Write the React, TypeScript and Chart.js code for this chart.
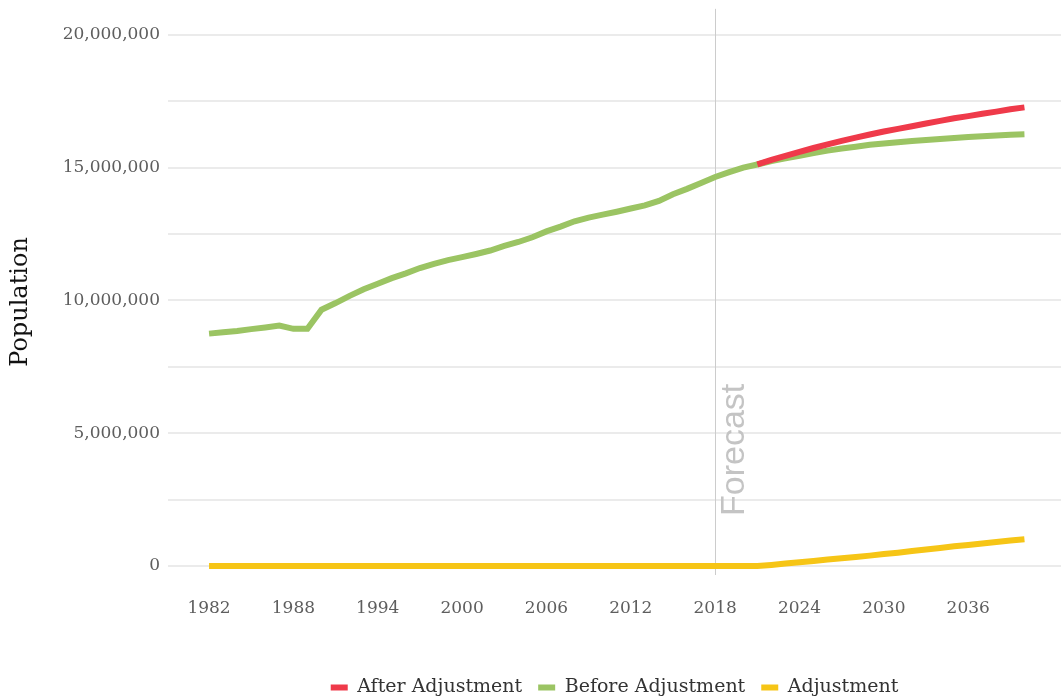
import React, { useEffect, useRef } from "react";
import { Chart, registerables } from "chart.js";

Chart.register(...registerables);

const years = [
  1982, 1983, 1984, 1985, 1986, 1987, 1988, 1989, 1990, 1991,
  1992, 1993, 1994, 1995, 1996, 1997, 1998, 1999, 2000, 2001,
  2002, 2003, 2004, 2005, 2006, 2007, 2008, 2009, 2010, 2011,
  2012, 2013, 2014, 2015, 2016, 2017, 2018, 2019, 2020, 2021,
  2022, 2023, 2024, 2025, 2026, 2027, 2028, 2029, 2030, 2031,
  2032, 2033, 2034, 2035, 2036, 2037, 2038, 2039, 2040,
];

const beforeAdjustment = [
  8.75, 8.8, 8.85, 8.92, 8.98, 9.05, 8.93, 8.93, 9.65, 9.9,
  10.17, 10.42, 10.63, 10.84, 11.02, 11.22, 11.38, 11.52, 11.63, 11.75,
  11.88, 12.05, 12.2, 12.38, 12.6, 12.78, 12.98, 13.12, 13.23, 13.34,
  13.46, 13.58, 13.75, 14.0, 14.2, 14.42, 14.65, 14.83, 15.0, 15.12,
  15.25, 15.35, 15.45, 15.55, 15.64, 15.72, 15.79, 15.86, 15.91, 15.96,
  16.0, 16.04, 16.08, 16.12, 16.15, 16.18, 16.21, 16.24, 16.26,
];

const afterAdjustment = [
  null, null, null, null, null, null, null, null, null, null,
  null, null, null, null, null, null, null, null, null, null,
  null, null, null, null, null, null, null, null, null, null,
  null, null, null, null, null, null, null, null, null, 15.12,
  15.29, 15.44, 15.59, 15.74, 15.88, 16.01, 16.13, 16.25, 16.36, 16.46,
  16.56, 16.66, 16.76, 16.86, 16.94, 17.03, 17.11, 17.2, 17.27,
];

const adjustment = [
  0, 0, 0, 0, 0, 0, 0, 0, 0, 0,
  0, 0, 0, 0, 0, 0, 0, 0, 0, 0,
  0, 0, 0, 0, 0, 0, 0, 0, 0, 0,
  0, 0, 0, 0, 0, 0, 0, 0, 0, 0,
  0.04, 0.09, 0.14, 0.19, 0.24, 0.29, 0.34, 0.39, 0.45, 0.5,
  0.56, 0.62, 0.68, 0.74, 0.79, 0.85, 0.9, 0.96, 1.01,
];

const xTickYears = [1982, 1988, 1994, 2000, 2006, 2012, 2018, 2024, 2030, 2036];
const yTickValues = [0, 2.5e6, 5e6, 7.5e6, 10e6, 12.5e6, 15e6, 17.5e6, 20e6];
const forecastYear = 2018;
const forecastLabel = "Forecast";
const yAxisTitle = "Population";

const MILLION = 1e6;
const SERIF = "'DejaVu Serif', serif";

const toPoints = (arr: (number | null)[]) =>
  years.map((yr, i) => ({ x: yr, y: arr[i] === null ? null : (arr[i] as number) * MILLION }));

const forecastPlugin = {
  id: "forecastLine",
  beforeDatasetsDraw(chart: any) {
    const { ctx, chartArea, scales } = chart;
    const x = Math.round(scales.x.getPixelForValue(forecastYear)) + 0.5;
    ctx.save();
    ctx.strokeStyle = "#cccccc";
    ctx.lineWidth = 1;
    ctx.beginPath();
    ctx.moveTo(x, chartArea.top);
    ctx.lineTo(x, chartArea.bottom);
    ctx.stroke();
    ctx.translate(x + 28, chartArea.bottom - 59);
    ctx.rotate(-Math.PI / 2);
    ctx.fillStyle = "#c4c4c4";
    ctx.font = "34px 'Liberation Sans', Arial, sans-serif";
    ctx.textBaseline = "alphabetic";
    ctx.textAlign = "left";
    ctx.fillText(forecastLabel, 0, 0);
    ctx.restore();
  },
};

const axisTitlePlugin = {
  id: "axisTitle",
  afterDraw(chart: any) {
    const { ctx, chartArea } = chart;
    ctx.save();
    ctx.translate(21, (chartArea.top + chartArea.bottom) / 2 + 10);
    ctx.rotate(-Math.PI / 2);
    ctx.fillStyle = "#111111";
    ctx.font = `24px ${SERIF}`;
    ctx.textAlign = "center";
    ctx.textBaseline = "middle";
    ctx.fillText(yAxisTitle, 0, 0);
    ctx.restore();
  },
};

export default function App() {
  const canvasRef = useRef<HTMLCanvasElement | null>(null);

  useEffect(() => {
    document.body.style.margin = "0";
    const canvas = canvasRef.current;
    if (!canvas) return;
    const chart = new Chart(canvas, {
      type: "line",
      data: {
        datasets: [
          {
            label: "After Adjustment",
            data: toPoints(afterAdjustment),
            borderColor: "#ef3a4a",
            backgroundColor: "#ef3a4a",
            borderWidth: 6,
            pointRadius: 0,
            tension: 0,
            spanGaps: false,
          },
          {
            label: "Before Adjustment",
            data: toPoints(beforeAdjustment),
            borderColor: "#9bc463",
            backgroundColor: "#9bc463",
            borderWidth: 6,
            pointRadius: 0,
            tension: 0,
          },
          {
            label: "Adjustment",
            data: toPoints(adjustment),
            borderColor: "#f6c516",
            backgroundColor: "#f6c516",
            borderWidth: 6,
            pointRadius: 0,
            tension: 0,
          },
        ],
      },
      options: {
        responsive: false,
        animation: false,
        maintainAspectRatio: false,
        layout: { padding: { top: 0, left: 0, right: 0, bottom: -7 } },
        plugins: {
          legend: {
            position: "bottom",
            fullSize: false,
            labels: {
              boxWidth: 17,
              boxHeight: 6,
              padding: 16,
              color: "#333333",
              font: { family: SERIF, size: 19 },
              generateLabels: (chart: any) =>
                Chart.defaults.plugins.legend.labels
                  .generateLabels(chart)
                  .map((l: any) => ({ ...l, lineWidth: 0, strokeStyle: "rgba(0,0,0,0)" })),
            },
          },
          tooltip: { enabled: false },
        },
        scales: {
          x: {
            type: "linear",
            min: 1979.08,
            max: 2042.6,
            grid: { display: false, drawTicks: false },
            border: { display: false },
            afterBuildTicks: (scale: any) => {
              scale.ticks = xTickYears.map((v) => ({ value: v }));
            },
            afterFit: (scale: any) => {
              scale.height = 87;
            },
            ticks: {
              autoSkip: false,
              maxRotation: 0,
              padding: 23,
              color: "#5e5e5e",
              font: { family: SERIF, size: 17 },
              callback: (v: any) => String(v),
            },
          },
          y: {
            type: "linear",
            min: -0.34 * MILLION,
            max: 20.98 * MILLION,
            grid: { color: "#ebebeb", lineWidth: 2, drawTicks: false },
            border: { display: false },
            afterBuildTicks: (scale: any) => {
              scale.ticks = yTickValues.map((v) => ({ value: v }));
            },
            afterFit: (scale: any) => {
              scale.width = 168;
            },
            title: { display: false },
            ticks: {
              padding: 8,
              color: "#5e5e5e",
              font: { family: SERIF, size: 17, lineHeight: 0.1 },
              callback: (v: any) =>
                Number(v) % (5 * MILLION) === 0 ? Number(v).toLocaleString("en-US") : "",
            },
          },
        },
      },
      plugins: [forecastPlugin, axisTitlePlugin],
    } as any);
    return () => chart.destroy();
  }, []);

  return (
    <div style={{ width: 1061, height: 700 }}>
      <canvas ref={canvasRef} width={1061} height={700} style={{ display: "block" }} />
    </div>
  );
}
